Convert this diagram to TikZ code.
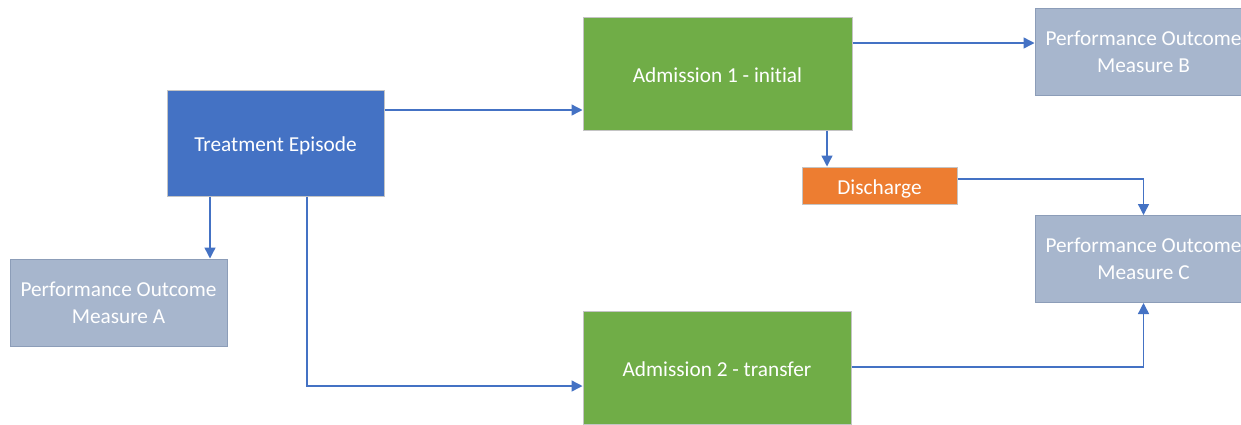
\documentclass[tikz,border=0pt]{standalone}
\usepackage{fontspec}
\setmainfont[Ligatures={NoCommon}]{Carlito}
\usetikzlibrary{arrows.meta}
\definecolor{tblue}{HTML}{4472C4}
\definecolor{tgreen}{HTML}{70AD47}
\definecolor{torange}{HTML}{ED7D31}
\definecolor{tslate}{HTML}{A7B6CD}
\definecolor{tslateedge}{HTML}{8C9DB8}
\definecolor{tedge}{HTML}{C4C4C4}
\tikzset{
  box/.style={rectangle, draw=tedge, line width=1pt, inner sep=0pt, text=white,
    font=\fontsize{21.3}{27}\selectfont, align=center},
  oneline/.style={box, text height=20pt, text depth=2.6pt},
  outcome/.style={box, fill=tslate, draw=tslateedge, minimum width=217pt, minimum height=87pt},
  link/.style={draw=tblue, line width=1.4pt, -{Triangle[length=11pt,width=11pt]}}
}
\begin{document}
\begin{tikzpicture}[x=1pt,y=-1pt]
\useasboundingbox (0,0) rectangle (1241,424);
\clip (0,0) rectangle (1241,424);
\fill[white] (0,0) rectangle (1241,424);
% boxes
\node[oneline, fill=tblue, minimum width=217pt, minimum height=106pt] (te) at (275.5,143) {Treatment Episode};
\node[oneline, fill=tgreen, minimum width=269pt, minimum height=113pt] (a1) at (717.5,73.5) {Admission 1 - initial};
\node[oneline, fill=tgreen, minimum width=268pt, minimum height=113pt] (a2) at (717,367.5) {Admission 2 - transfer};
\node[oneline, fill=torange, minimum width=155pt, minimum height=37pt] (dis) at (879.5,185.5) {Discharge};
\node[outcome] (pa) at (118.5,302.5) {Performance Outcome\\Measure A};
\node[outcome] (pb) at (1143.5,52) {Performance Outcome\\Measure B};
\node[outcome] (pc) at (1143.5,259) {Performance Outcome\\Measure C};
% connectors
\draw[link] (te.east |- 0,110) -- (a1.west |- 0,110);
\draw[link] (a1.east |- 0,43) -- (pb.west |- 0,43);
\draw[link] (a1.south -| 827,0) -- (dis.north -| 827,0);
\draw[link] (dis.east |- 0,179) -| (pc.north);
\draw[link] (a2.east |- 0,367) -| (pc.south);
\draw[link] (te.south -| 210,0) -- (pa.north -| 210,0);
\draw[link] (te.south -| 307,0) |- (a2.west |- 0,386);
\end{tikzpicture}
\end{document}
